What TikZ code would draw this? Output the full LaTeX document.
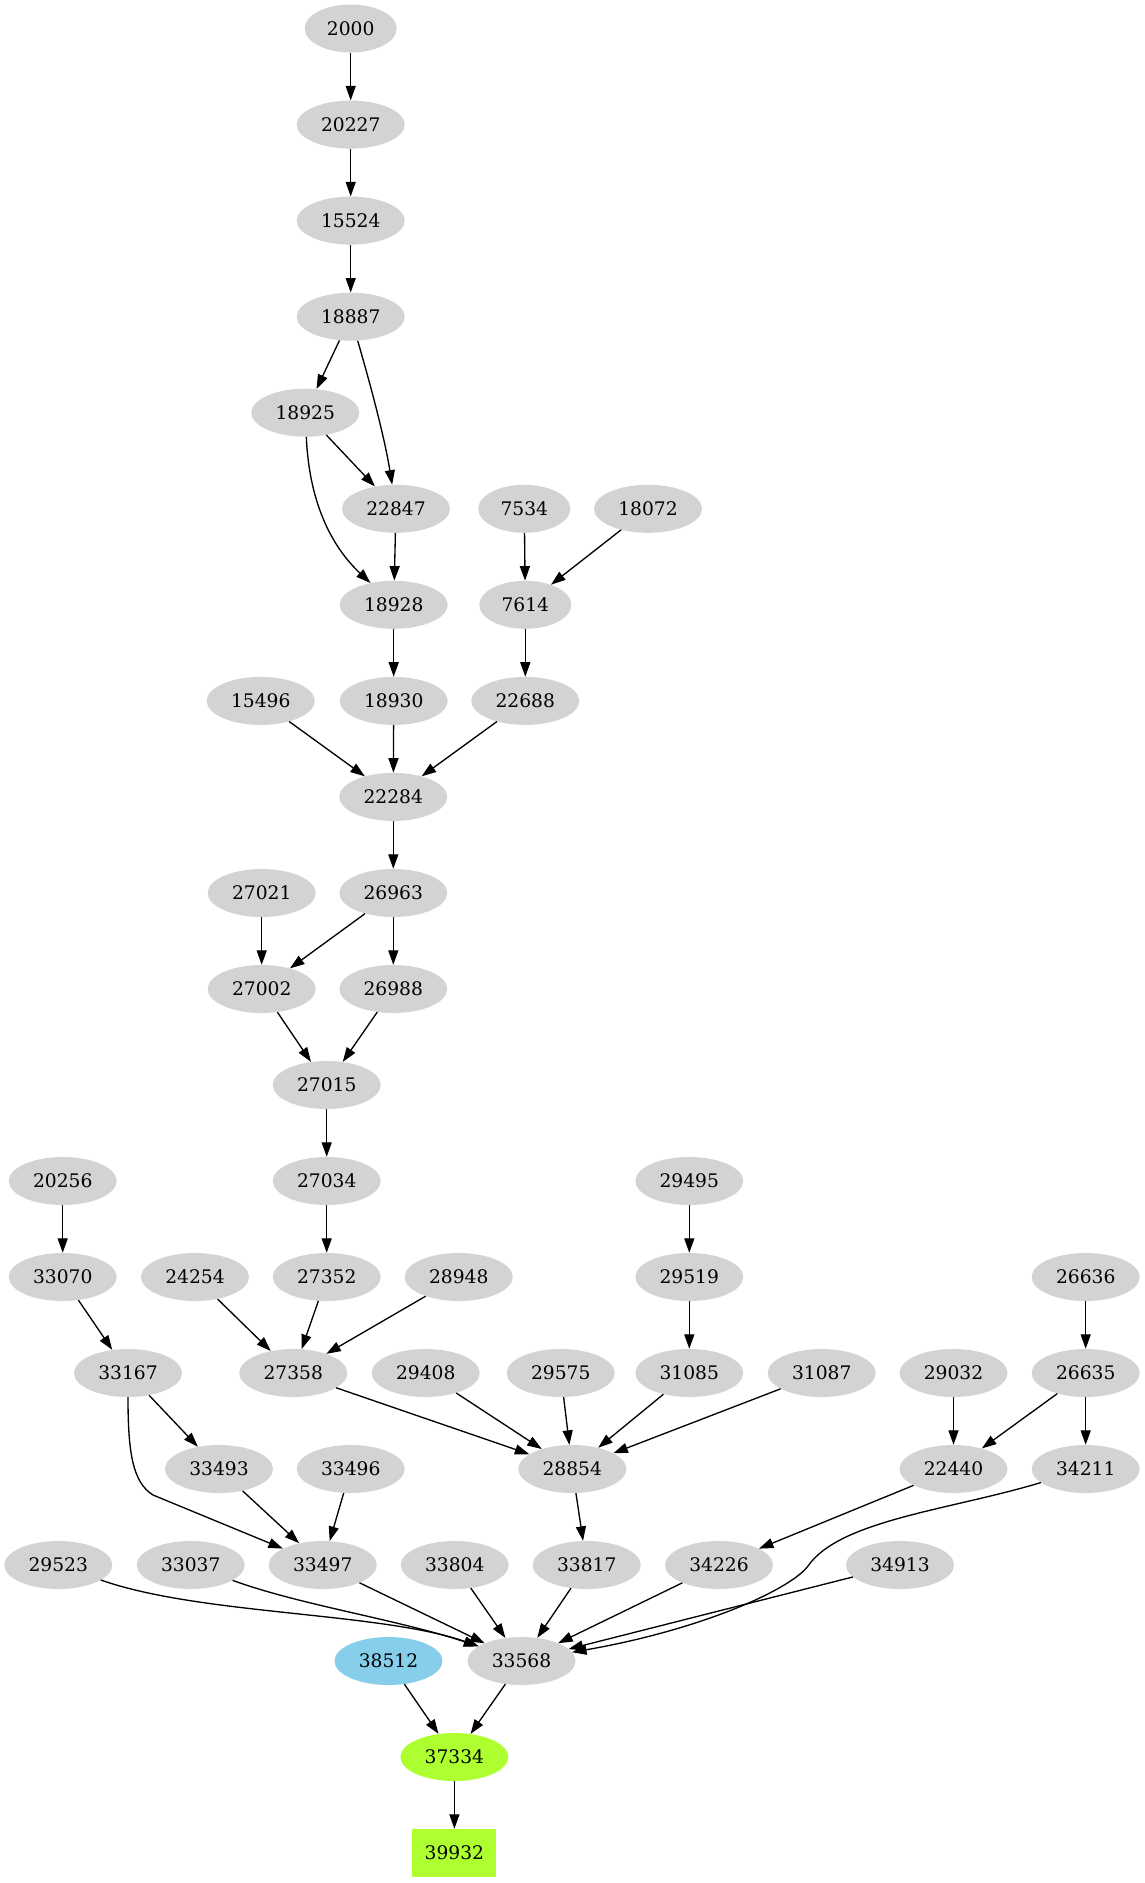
\documentclass[tikz,border=0pt]{standalone}
\usepackage{fontspec}
\setmainfont{DejaVu Serif}
\usetikzlibrary{shapes.geometric,arrows.meta}
\definecolor{ndgray}{HTML}{D3D3D3}
\definecolor{skyb}{HTML}{87CEEB}
\definecolor{gyel}{HTML}{ADFF2F}
\begin{document}
\begin{tikzpicture}[x=1pt,y=-1pt,
  nd/.style={ellipse,fill=ndgray,inner sep=0pt,minimum width=108pt,minimum height=48pt,font=\fontsize{18.67}{22}\selectfont},
  nd4/.style={nd,minimum width=92pt},
  edg/.style={line width=1.33pt,-{Triangle[length=14.5pt,width=10pt]}}]
\useasboundingbox (0,0) rectangle (1145,1883);
% rank 0-4
\node[nd4] (n2000) at (350.7,28.5) {2000};
\node[nd] (n20227) at (350.7,124.6) {20227};
\node[nd] (n15524) at (350.7,220.6) {15524};
\node[nd] (n18887) at (350.7,316.7) {18887};
\node[nd] (n18925) at (305.3,412.7) {18925};
% rank 5
\node[nd] (n22847) at (396,508.8) {22847};
\node[nd4] (n7534) at (524.3,508.8) {7534};
\node[nd] (n18072) at (648,508.8) {18072};
% rank 6
\node[nd] (n18928) at (393.7,604.8) {18928};
\node[nd4] (n7614) at (525.3,604.8) {7614};
% rank 7
\node[nd] (n15496) at (260.7,700.9) {15496};
\node[nd] (n18930) at (393.7,700.9) {18930};
\node[nd] (n22688) at (525.3,700.9) {22688};
% rank 8-11
\node[nd] (n22284) at (393.3,796.9) {22284};
\node[nd] (n27021) at (261.7,893) {27021};
\node[nd] (n26963) at (393.3,893) {26963};
\node[nd] (n27002) at (261.7,989) {27002};
\node[nd] (n26988) at (393.3,989) {26988};
\node[nd] (n27015) at (326.7,1085) {27015};
% rank 12
\node[nd] (n20256) at (62.7,1181) {20256};
\node[nd] (n27034) at (326.7,1181) {27034};
\node[nd] (n29495) at (689.3,1181) {29495};
% rank 13
\node[nd] (n33070) at (62.7,1277) {33070};
\node[nd] (n24254) at (195,1277) {24254};
\node[nd] (n27352) at (326.7,1277) {27352};
\node[nd] (n28948) at (458.7,1277) {28948};
\node[nd] (n29519) at (689.3,1277) {29519};
\node[nd] (n26636) at (1085.7,1277) {26636};
% rank 14
\node[nd] (n33167) at (128,1373) {33167};
\node[nd] (n27358) at (293.3,1373) {27358};
\node[nd] (n29408) at (425.7,1373) {29408};
\node[nd] (n29575) at (560.7,1373) {29575};
\node[nd] (n31085) at (689.3,1373) {31085};
\node[nd] (n31087) at (821.7,1373) {31087};
\node[nd] (n29032) at (953.5,1373) {29032};
\node[nd] (n26635) at (1085.7,1373) {26635};
% rank 15
\node[nd] (n33493) at (219,1469) {33493};
\node[nd] (n33496) at (350.7,1469) {33496};
\node[nd] (n28854) at (572.3,1469) {28854};
\node[nd] (n22440) at (953.5,1469) {22440};
\node[nd] (n34211) at (1085.7,1469) {34211};
% rank 16
\node[nd] (n29523) at (58.3,1565) {29523};
\node[nd] (n33037) at (190.7,1565) {33037};
\node[nd] (n33497) at (322.7,1565) {33497};
\node[nd] (n33804) at (454.7,1565) {33804};
\node[nd] (n33817) at (586.7,1565) {33817};
\node[nd] (n34226) at (719,1565) {34226};
\node[nd] (n34913) at (900,1565) {34913};
% rank 17-19
\node[nd,fill=skyb] (n38512) at (388.5,1661) {38512};
\node[nd] (n33568) at (521.5,1661) {33568};
\node[nd,fill=gyel] (n37334) at (454.4,1757) {37334};
\node[rectangle,fill=gyel,inner sep=0pt,minimum width=84pt,minimum height=48pt,font=\fontsize{18.67}{22}\selectfont] (n39932) at (454.4,1853) {39932};
% edges
\draw[edg] (n2000) -- (n20227);
\draw[edg] (n20227) -- (n15524);
\draw[edg] (n15524) -- (n18887);
\draw[edg] (n18887) -- (n18925);
\draw[edg] (n18887) .. controls (372,390) and (385,440) .. (n22847);
\draw[edg] (n18925) -- (n22847);
\draw[edg] (n18925) .. controls (309,500) and (330,545) .. (n18928);
\draw[edg] (n22847) -- (n18928);
\draw[edg] (n7534) -- (n7614);
\draw[edg] (n18072) -- (n7614);
\draw[edg] (n18928) -- (n18930);
\draw[edg] (n7614) -- (n22688);
\draw[edg] (n15496) -- (n22284);
\draw[edg] (n18930) -- (n22284);
\draw[edg] (n22688) -- (n22284);
\draw[edg] (n22284) -- (n26963);
\draw[edg] (n27021) -- (n27002);
\draw[edg] (n26963) -- (n27002);
\draw[edg] (n26963) -- (n26988);
\draw[edg] (n27002) -- (n27015);
\draw[edg] (n26988) -- (n27015);
\draw[edg] (n27015) -- (n27034);
\draw[edg] (n20256) -- (n33070);
\draw[edg] (n27034) -- (n27352);
\draw[edg] (n29495) -- (n29519);
\draw[edg] (n33070) -- (n33167);
\draw[edg] (n24254) -- (n27358);
\draw[edg] (n27352) -- (n27358);
\draw[edg] (n28948) -- (n27358);
\draw[edg] (n29519) -- (n31085);
\draw[edg] (n26636) -- (n26635);
\draw[edg] (n33167) -- (n33493);
\draw[edg] (n33167) .. controls (128,1450) and (132,1482) .. (153,1495) -- (n33497);
\draw[edg] (n27358) -- (n28854);
\draw[edg] (n29408) -- (n28854);
\draw[edg] (n29575) -- (n28854);
\draw[edg] (n31085) -- (n28854);
\draw[edg] (n31087) -- (n28854);
\draw[edg] (n29032) -- (n22440);
\draw[edg] (n26635) -- (n22440);
\draw[edg] (n26635) -- (n34211);
\draw[edg] (n33493) -- (n33497);
\draw[edg] (n33496) -- (n33497);
\draw[edg] (n28854) -- (n33817);
\draw[edg] (n22440) -- (n34226);
\draw[edg] (n29523) .. controls (200,1615) and (380,1612) .. (n33568);
\draw[edg] (n33037) .. controls (300,1605) and (400,1620) .. (n33568);
\draw[edg] (n33497) -- (n33568);
\draw[edg] (n33804) -- (n33568);
\draw[edg] (n33817) -- (n33568);
\draw[edg] (n34226) -- (n33568);
\draw[edg] (n34913) -- (n33568);
\draw[edg] (n34211) .. controls (950,1510) and (840,1520) .. (808,1566) .. controls (790,1590) and (700,1630) .. (n33568);
\draw[edg] (n38512) -- (n37334);
\draw[edg] (n33568) -- (n37334);
\draw[edg] (n37334) -- (n39932);
\end{tikzpicture}
\end{document}
